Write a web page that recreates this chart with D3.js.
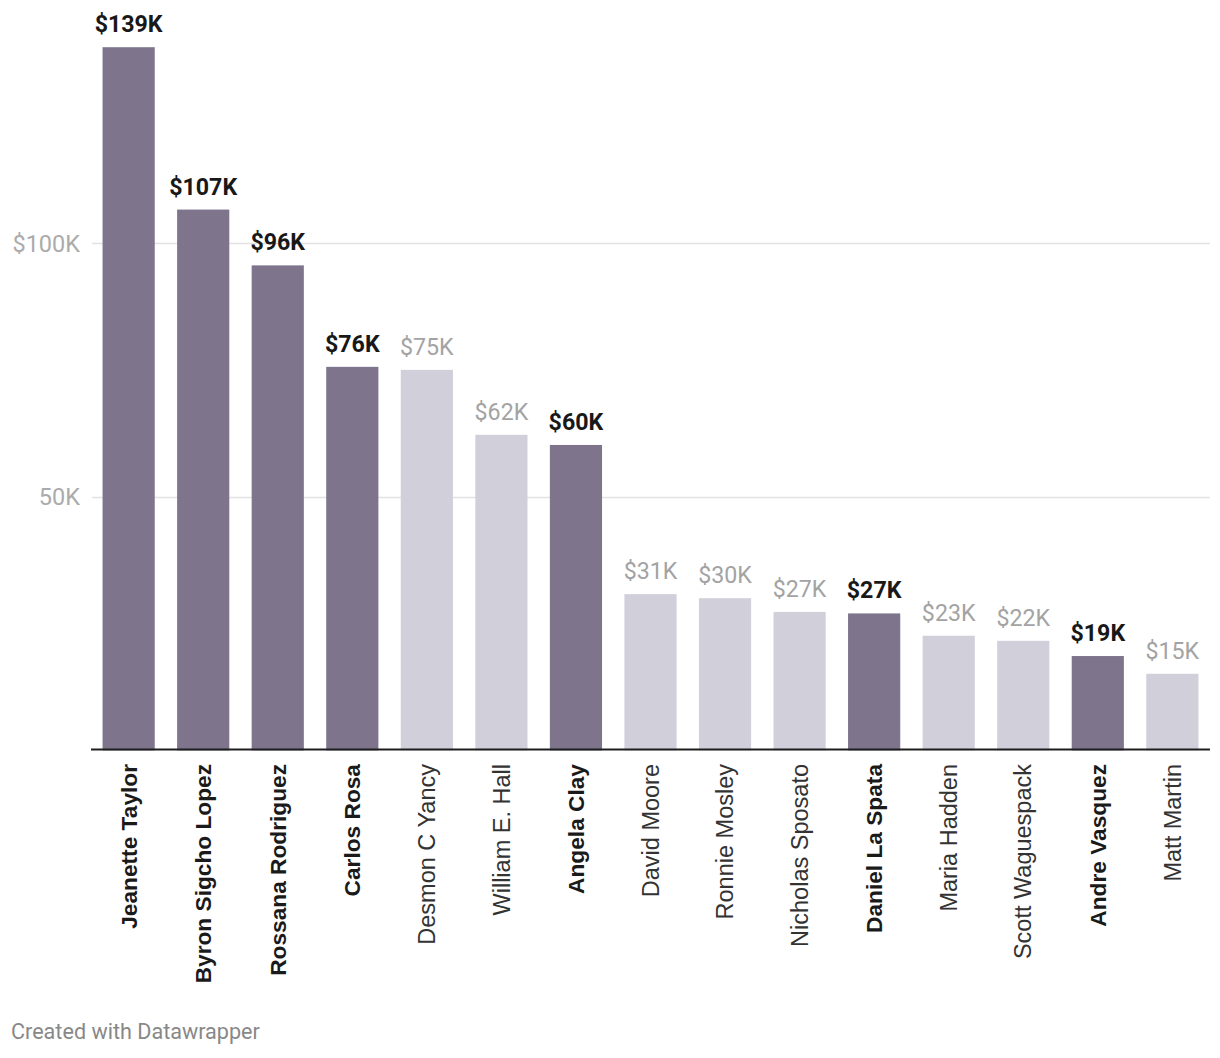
<!DOCTYPE html>
<html>
<head>
<meta charset="utf-8">
<script src="https://cdn.jsdelivr.net/npm/d3@7"></script>
<style>
  html, body { margin: 0; padding: 0; background: #fff; }
  svg { display: block; }
</style>
</head>
<body>
<svg id="chart" width="1220" height="1058"></svg>
<script>
const categories = ["Jeanette Taylor", "Byron Sigcho Lopez", "Rossana Rodriguez", "Carlos Rosa", "Desmon C Yancy", "William E. Hall", "Angela Clay", "David Moore", "Ronnie Mosley", "Nicholas Sposato", "Daniel La Spata", "Maria Hadden", "Scott Waguespack", "Andre Vasquez", "Matt Martin"];
const values = [138.6, 106.6, 95.6, 75.6, 75.0, 62.2, 60.2, 30.8, 30.0, 27.3, 27.0, 22.6, 21.6, 18.6, 15.1];
const highlighted = ["Jeanette Taylor", "Byron Sigcho Lopez", "Rossana Rodriguez", "Carlos Rosa", "Angela Clay", "Daniel La Spata", "Andre Vasquez"];
const yTicks = [50, 100];
const yTickLabels = ["50K", "$100K"];
const footer = "Created with Datawrapper";

const svg = d3.select("#chart");
const data = categories.map((c, i) => ({ name: c, value: values[i], hi: highlighted.includes(c) }));

const x = d3.scaleBand().domain(categories).range([91, 1210]).paddingInner(0.3).paddingOuter(0.155);
const y = d3.scaleLinear().domain([0, 140]).range([750.4, 40.1]);

// gridlines + tick labels
const grid = svg.append("g");
yTicks.forEach((t, i) => {
  grid.append("line").attr("x1", 92).attr("x2", 1210)
    .attr("y1", Math.round(y(t)) + 0.5).attr("y2", Math.round(y(t)) + 0.5)
    .attr("stroke", "#e2e2e2").attr("stroke-width", 1.5);
  grid.append("text").attr("x", 80).attr("y", y(t)).attr("dy", "0.36em")
    .attr("text-anchor", "end")
    .attr("font-family", "Roboto").attr("font-size", 23.5)
    .attr("fill", "#ababab").text(yTickLabels[i]);
});

// bars
svg.append("g").selectAll("rect").data(data).join("rect")
  .attr("x", d => x(d.name)).attr("width", x.bandwidth())
  .attr("y", d => y(d.value)).attr("height", d => y(0) - y(d.value))
  .attr("fill", d => d.hi ? "#7e758d" : "#d1cfda");

// value labels
svg.append("g").selectAll("text").data(data).join("text")
  .attr("x", d => x(d.name) + x.bandwidth() / 2)
  .attr("y", d => y(d.value) - 15)
  .attr("text-anchor", "middle")
  .attr("font-family", "Roboto")
  .attr("font-size", 23.2)
  .attr("font-weight", d => d.hi ? 700 : 400)
  .attr("fill", d => d.hi ? "#181818" : "#a3a3a3")
  .text(d => "$" + Math.round(d.value) + "K");

// baseline
svg.append("line").attr("x1", 91).attr("x2", 1210)
  .attr("y1", 749.5).attr("y2", 749.5)
  .attr("stroke", "#1e1e1e").attr("stroke-width", 2);

// category labels
svg.append("g").selectAll("text").data(data).join("text")
  .attr("transform", d => `translate(${x(d.name) + x.bandwidth() / 2},764) rotate(-90)`)
  .attr("text-anchor", "end")
  .attr("dy", "0.35em")
  .attr("font-family", "Liberation Sans, Arial, sans-serif")
  .attr("font-size", d => d.hi ? 22.7 : 23.5)
  .attr("font-weight", d => d.hi ? 700 : 400)
  .attr("fill", d => d.hi ? "#1a1a1a" : "#333")
  .text(d => d.name);

// footer
svg.append("text").attr("x", 11).attr("y", 1039)
  .attr("font-family", "Roboto").attr("font-size", 21.6)
  .attr("fill", "#888").text(footer);
</script>
</body>
</html>
